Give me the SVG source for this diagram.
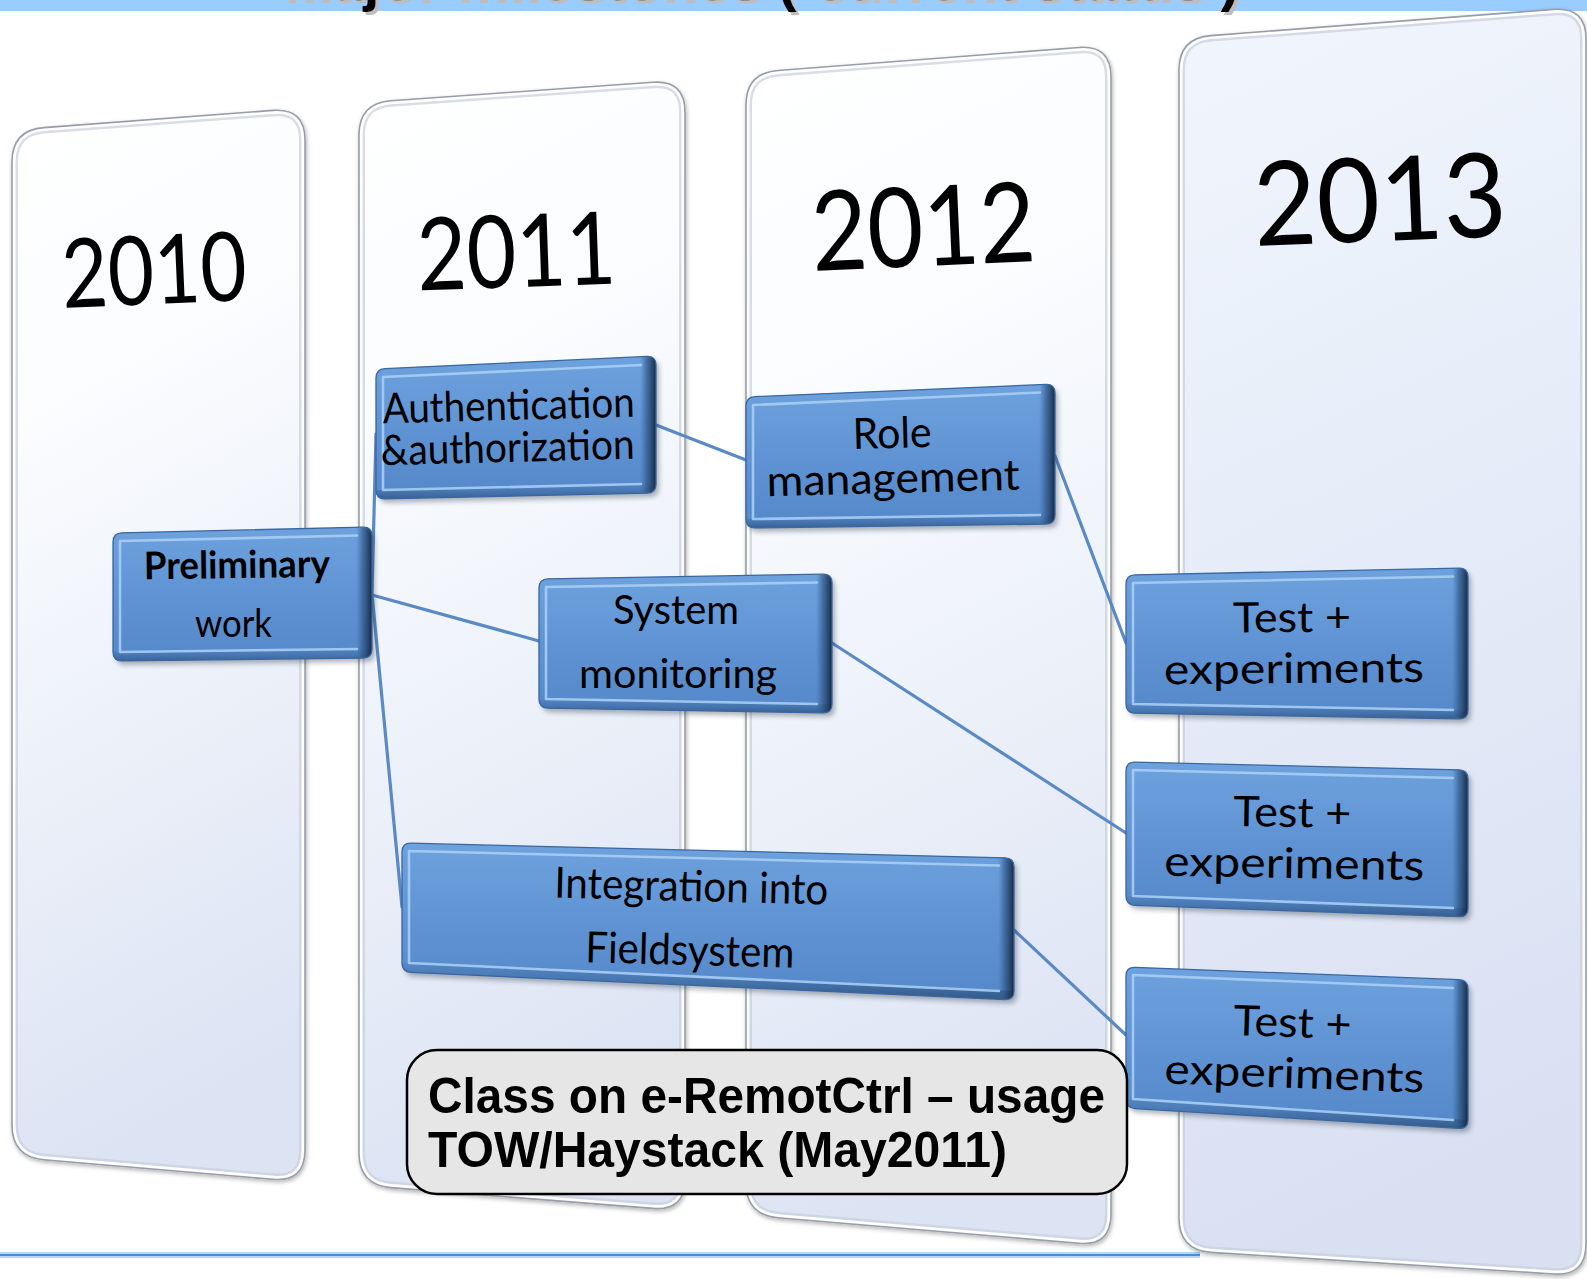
<svg xmlns="http://www.w3.org/2000/svg" xmlns:xlink="http://www.w3.org/1999/xlink" width="1587" height="1279" viewBox="0 0 1587 1279">
  <style>
    .title { font-family: "Liberation Sans", Arial, sans-serif; font-weight: bold; font-size: 60px; fill: #000; filter: url(#fTitleShadow); }
    .panel-rim { fill: none; stroke: #979ea9; stroke-width: 1.6; }
    .panel-shade { fill: none; stroke: #c8cfdd; stroke-width: 12; opacity: 0.7; }
    .panel-hi { fill: none; stroke: #ffffff; stroke-width: 7; }
    .yr { font-family: Lato, "Open Sans", "DejaVu Sans", sans-serif; fill: #000; }
    .box-face { fill: url(#gFace); }
    .box-rim { fill: none; stroke: #3a679f; stroke-width: 1.3; }
    .box-shadow { fill: #1d2a3a; opacity: 0.35; filter: url(#fBlur); }
    .edge-r { fill: url(#gEdgeR); }
    .edge-b { fill: url(#gEdgeB); }
    .bevel { fill: none; stroke: #a7cdf4; stroke-width: 2.6; stroke-linecap: round; stroke-linejoin: round; opacity: 0.9; }
    .lbl { font-family: Lato, "Open Sans", "DejaVu Sans", sans-serif; fill: #000; }
    .conn line { stroke: #5a8ac6; stroke-width: 3.2; stroke-linecap: round; }
    .note-box { fill: #e6e6e6; stroke: #000; stroke-width: 2.5; }
    .note { font-family: "Liberation Sans", Arial, sans-serif; font-weight: bold; font-size: 50px; fill: #000; }
  </style>
  <defs>
    <linearGradient id="gPanel" x1="0" y1="0" x2="0.15" y2="1">
      <stop offset="0" stop-color="#ffffff"/>
      <stop offset="0.3" stop-color="#fafcfe"/>
      <stop offset="1" stop-color="#dce3f3"/>
    </linearGradient>
    <linearGradient id="gPanel4" x1="0" y1="0" x2="0.15" y2="1">
      <stop offset="0" stop-color="#f1f6fd"/>
      <stop offset="1" stop-color="#d9e0f2"/>
    </linearGradient>
    <linearGradient id="gFace" x1="0" y1="0" x2="0" y2="1">
      <stop offset="0" stop-color="#6ea2de"/>
      <stop offset="0.5" stop-color="#5f93d3"/>
      <stop offset="1" stop-color="#5588c8"/>
    </linearGradient>
    <linearGradient id="gEdgeR" x1="0" y1="0" x2="1" y2="0">
      <stop offset="0" stop-color="#3a6599" stop-opacity="0"/>
      <stop offset="0.4" stop-color="#2c5282" stop-opacity="0.6"/>
      <stop offset="1" stop-color="#13233a" stop-opacity="0.95"/>
    </linearGradient>
    <linearGradient id="gEdgeB" x1="0" y1="0" x2="0" y2="1">
      <stop offset="0" stop-color="#3f6ea8" stop-opacity="0.2"/>
      <stop offset="1" stop-color="#25466f" stop-opacity="0.85"/>
    </linearGradient>
    <filter id="fBlur" x="-10%" y="-10%" width="120%" height="130%">
      <feGaussianBlur stdDeviation="2.5"/>
    </filter>
    <filter id="fTitleShadow" x="-5%" y="-50%" width="110%" height="200%">
      <feOffset in="SourceAlpha" dx="3" dy="3" result="off"/>
      <feFlood flood-color="#bdbdbd"/>
      <feComposite in2="off" operator="in" result="sh"/>
      <feMerge><feMergeNode in="sh"/><feMergeNode in="SourceGraphic"/></feMerge>
    </filter>
    <filter id="fPanelShadow" x="-5%" y="-5%" width="110%" height="110%">
      <feGaussianBlur in="SourceAlpha" stdDeviation="2"/>
      <feOffset dx="1" dy="2" result="s"/>
      <feComponentTransfer><feFuncA type="linear" slope="0.3"/></feComponentTransfer>
      <feMerge><feMergeNode/><feMergeNode in="SourceGraphic"/></feMerge>
    </filter>

    <!-- year column outlines -->
    <path id="p2010" d="M12,162 Q12,130 44,127.6 L273,110.4 Q305,108 305,140 L305,1150 Q305,1182 273,1179.3 L44,1159.7 Q12,1157 12,1125 Z"/>
    <path id="p2011" d="M359,135 Q359,103 391,100.7 L653,82.3 Q685,80 685,112 L685,1179 Q685,1211 653,1208.4 L391,1187.6 Q359,1185 359,1153 Z"/>
    <path id="p2012" d="M746,105 Q746,73 778,70.5 L1079,47.5 Q1111,45 1111,77 L1111,1214 Q1111,1246 1079,1243.3 L778,1217.7 Q746,1215 746,1183 Z"/>
    <path id="p2013" d="M1179,70 Q1179,38 1211,35.6 L1554,9.4 Q1586,7 1586,39 L1586,1244 Q1586,1276 1554,1274 L1211,1252.4 Q1179,1250 1179,1218 Z"/>
    <clipPath id="c2010"><use xlink:href="#p2010"/></clipPath>
    <clipPath id="c2011"><use xlink:href="#p2011"/></clipPath>
    <clipPath id="c2012"><use xlink:href="#p2012"/></clipPath>
    <clipPath id="c2013"><use xlink:href="#p2013"/></clipPath>

    <!-- milestone box outlines -->
    <path id="bPre" d="M113,542 Q113,533 122,532.8 L363,527.2 Q372,527 372,536 L372,649 Q372,658 363,658.1 L122,660.9 Q113,661 113,652 Z"/>
    <path id="bAuth" d="M376,378 Q376,369 385,368.6 L647,356.4 Q656,356 656,365 L656,484 Q656,493 647,493.2 L385,498.8 Q376,499 376,490 Z"/>
    <path id="bSys" d="M539,588 Q539,579 548,578.8 L823,574.2 Q832,574 832,583 L832,704 Q832,713 823,712.8 L548,708.2 Q539,708 539,699 Z"/>
    <path id="bRole" d="M746,406 Q746,397 755,396.6 L1046,384.4 Q1055,384 1055,393 L1055,515 Q1055,524 1046,524.1 L755,527.9 Q746,528 746,519 Z"/>
    <path id="bInt" d="M402,852 Q402,843 411,843.2 L1005,857.8 Q1014,858 1014,867 L1014,991 Q1014,1000 1005,999.6 L411,972.4 Q402,972 402,963 Z"/>
    <path id="bT1" d="M1126,584 Q1126,575 1135,574.8 L1459,568.2 Q1468,568 1468,577 L1468,710 Q1468,719 1459,718.8 L1135,713.2 Q1126,713 1126,704 Z"/>
    <path id="bT2" d="M1126,771 Q1126,762 1135,762.2 L1459,769.8 Q1468,770 1468,779 L1468,908 Q1468,917 1459,916.7 L1135,905.3 Q1126,905 1126,896 Z"/>
    <path id="bT3" d="M1126,976 Q1126,967 1135,967.3 L1459,979.7 Q1468,980 1468,989 L1468,1120 Q1468,1129 1459,1128.4 L1135,1108.6 Q1126,1108 1126,1099 Z"/>
    <clipPath id="cPre"><use xlink:href="#bPre"/></clipPath>
    <clipPath id="cAuth"><use xlink:href="#bAuth"/></clipPath>
    <clipPath id="cSys"><use xlink:href="#bSys"/></clipPath>
    <clipPath id="cRole"><use xlink:href="#bRole"/></clipPath>
    <clipPath id="cInt"><use xlink:href="#bInt"/></clipPath>
    <clipPath id="cT1"><use xlink:href="#bT1"/></clipPath>
    <clipPath id="cT2"><use xlink:href="#bT2"/></clipPath>
    <clipPath id="cT3"><use xlink:href="#bT3"/></clipPath>
  </defs>

  <rect x="0" y="0" width="1587" height="1279" fill="#ffffff"/>

  <!-- heading strip; the heading itself runs off the top edge -->
  <g id="heading">
    <rect x="0" y="0" width="1587" height="11" fill="#99ccff"/>
    <text class="title" x="282" y="0" textLength="958" lengthAdjust="spacingAndGlyphs">Major milestones ( current status )</text>
  </g>

  <!-- footer rule -->
  <g id="footer-rule">
    <line x1="0" y1="1255" x2="1200" y2="1255" stroke="#bcd7f2" stroke-width="6"/>
    <line x1="0" y1="1255" x2="1200" y2="1255" stroke="#4a8fd6" stroke-width="2"/>
  </g>

  <!-- year columns -->
  <g id="col-2010" filter="url(#fPanelShadow)">
    <use xlink:href="#p2010" fill="url(#gPanel)"/>
    <g clip-path="url(#c2010)"><use xlink:href="#p2010" class="panel-shade"/><use xlink:href="#p2010" class="panel-hi"/></g>
    <use xlink:href="#p2010" class="panel-rim"/>
    <text class="yr" x="63" y="304" font-size="96" textLength="185" lengthAdjust="spacingAndGlyphs" transform="rotate(-2.5 155 304)">2010</text>
  </g>
  <g id="col-2011" filter="url(#fPanelShadow)">
    <use xlink:href="#p2011" fill="url(#gPanel)"/>
    <g clip-path="url(#c2011)"><use xlink:href="#p2011" class="panel-shade"/><use xlink:href="#p2011" class="panel-hi"/></g>
    <use xlink:href="#p2011" class="panel-rim"/>
    <text class="yr" x="418" y="287" font-size="101" textLength="199" lengthAdjust="spacingAndGlyphs" transform="rotate(-2 518 287)">2011</text>
  </g>
  <g id="col-2012" filter="url(#fPanelShadow)">
    <use xlink:href="#p2012" fill="url(#gPanel)"/>
    <g clip-path="url(#c2012)"><use xlink:href="#p2012" class="panel-shade"/><use xlink:href="#p2012" class="panel-hi"/></g>
    <use xlink:href="#p2012" class="panel-rim"/>
    <text class="yr" x="813" y="266" font-size="111" textLength="224" lengthAdjust="spacingAndGlyphs" transform="rotate(-2.6 925 266)">2012</text>
  </g>
  <g id="col-2013" filter="url(#fPanelShadow)">
    <use xlink:href="#p2013" fill="url(#gPanel4)"/>
    <g clip-path="url(#c2013)"><use xlink:href="#p2013" class="panel-shade"/><use xlink:href="#p2013" class="panel-hi"/></g>
    <use xlink:href="#p2013" class="panel-rim"/>
    <text class="yr" x="1255" y="241" font-size="117" textLength="253" lengthAdjust="spacingAndGlyphs" transform="rotate(-2.3 1381 241)">2013</text>
  </g>

  <!-- connectors -->
  <g id="connectors" class="conn">
    <line x1="372" y1="594" x2="376" y2="434"/>
    <line x1="372" y1="594" x2="402" y2="907"/>
    <line x1="372" y1="595" x2="539" y2="641"/>
    <line x1="656" y1="425" x2="746" y2="460"/>
    <line x1="1055" y1="456" x2="1126" y2="643"/>
    <line x1="832" y1="643" x2="1126" y2="833"/>
    <line x1="1014" y1="930" x2="1126" y2="1035"/>
  </g>

  <!-- milestone boxes -->
  <g id="node-preliminary">
    <use xlink:href="#bPre" class="box-shadow" transform="translate(3,4)"/>
    <use xlink:href="#bPre" class="box-face"/>
    <g clip-path="url(#cPre)">
      <polygon class="edge-b" points="113,652 372,649 372,662 113,665"/>
      <rect class="edge-r" x="356" y="524" width="16" height="140"/>
      <path class="bevel" d="M120,652 L120,541 L357,535.5 M120,652 L357,649"/>
    </g>
    <use xlink:href="#bPre" class="box-rim"/>
    <text class="lbl" x="144" y="578" font-size="38" font-weight="bold" textLength="186" lengthAdjust="spacingAndGlyphs" transform="rotate(-0.8 237 578)">Preliminary</text>
    <text class="lbl" x="195" y="637" font-size="38" textLength="77" lengthAdjust="spacingAndGlyphs">work</text>
  </g>

  <g id="node-auth">
    <use xlink:href="#bAuth" class="box-shadow" transform="translate(3,4)"/>
    <use xlink:href="#bAuth" class="box-face"/>
    <g clip-path="url(#cAuth)">
      <polygon class="edge-b" points="376,490 656,484 656,497 376,503"/>
      <rect class="edge-r" x="640" y="353" width="16" height="146"/>
      <path class="bevel" d="M383,490 L383,377 L641,365 M383,490 L641,484"/>
    </g>
    <use xlink:href="#bAuth" class="box-rim"/>
    <text class="lbl" x="383" y="420" font-size="42" textLength="252" lengthAdjust="spacingAndGlyphs" transform="rotate(-1.5 509 420)">Authentication</text>
    <text class="lbl" x="381" y="462" font-size="42" textLength="254" lengthAdjust="spacingAndGlyphs" transform="rotate(-1.5 508 462)">&amp;authorization</text>
  </g>

  <g id="node-sysmon">
    <use xlink:href="#bSys" class="box-shadow" transform="translate(3,4)"/>
    <use xlink:href="#bSys" class="box-face"/>
    <g clip-path="url(#cSys)">
      <polygon class="edge-b" points="539,699 832,704 832,717 539,712"/>
      <rect class="edge-r" x="816" y="571" width="16" height="146"/>
      <path class="bevel" d="M546,699 L546,587 L817,582.5 M546,699 L817,704"/>
    </g>
    <use xlink:href="#bSys" class="box-rim"/>
    <text class="lbl" x="613" y="624" font-size="41" textLength="126" lengthAdjust="spacingAndGlyphs">System</text>
    <text class="lbl" x="579" y="688" font-size="41" textLength="198" lengthAdjust="spacingAndGlyphs">monitoring</text>
  </g>

  <g id="node-role">
    <use xlink:href="#bRole" class="box-shadow" transform="translate(3,4)"/>
    <use xlink:href="#bRole" class="box-face"/>
    <g clip-path="url(#cRole)">
      <polygon class="edge-b" points="746,519 1055,515 1055,528 746,532"/>
      <rect class="edge-r" x="1039" y="381" width="16" height="150"/>
      <path class="bevel" d="M753,519 L753,405 L1040,392.5 M753,519 L1040,515"/>
    </g>
    <use xlink:href="#bRole" class="box-rim"/>
    <text class="lbl" x="853" y="448" font-size="43" textLength="79" lengthAdjust="spacingAndGlyphs" transform="rotate(-1.5 893 448)">Role</text>
    <text class="lbl" x="767" y="493" font-size="43" textLength="253" lengthAdjust="spacingAndGlyphs" transform="rotate(-1.5 893 493)">management</text>
  </g>

  <g id="node-integration">
    <use xlink:href="#bInt" class="box-shadow" transform="translate(3,4)"/>
    <use xlink:href="#bInt" class="box-face"/>
    <g clip-path="url(#cInt)">
      <polygon class="edge-b" points="402,963 1014,991 1014,1004 402,976"/>
      <rect class="edge-r" x="998" y="855" width="16" height="148"/>
      <path class="bevel" d="M409,963 L409,851 L999,865.5 M409,963 L999,991"/>
    </g>
    <use xlink:href="#bInt" class="box-rim"/>
    <text class="lbl" x="554" y="901" font-size="43" textLength="274" lengthAdjust="spacingAndGlyphs" transform="rotate(1.5 691 901)">Integration into</text>
    <text class="lbl" x="585" y="965" font-size="43" textLength="209" lengthAdjust="spacingAndGlyphs" transform="rotate(1.5 690 965)">Fieldsystem</text>
  </g>

  <g id="node-test-1">
    <use xlink:href="#bT1" class="box-shadow" transform="translate(3,4)"/>
    <use xlink:href="#bT1" class="box-face"/>
    <g clip-path="url(#cT1)">
      <polygon class="edge-b" points="1126,704 1468,710 1468,723 1126,717"/>
      <rect class="edge-r" x="1452" y="565" width="16" height="157"/>
      <path class="bevel" d="M1133,704 L1133,583 L1453,576.5 M1133,704 L1453,710"/>
    </g>
    <use xlink:href="#bT1" class="box-rim"/>
    <text class="lbl" x="1233" y="632" font-size="42" textLength="118" lengthAdjust="spacingAndGlyphs" transform="rotate(-0.5 1292 632)">Test +</text>
    <text class="lbl" x="1164" y="683" font-size="42" textLength="260" lengthAdjust="spacingAndGlyphs" transform="rotate(-0.5 1294 683)">experiments</text>
  </g>

  <g id="node-test-2">
    <use xlink:href="#bT2" class="box-shadow" transform="translate(3,4)"/>
    <use xlink:href="#bT2" class="box-face"/>
    <g clip-path="url(#cT2)">
      <polygon class="edge-b" points="1126,896 1468,908 1468,921 1126,909"/>
      <rect class="edge-r" x="1452" y="767" width="16" height="153"/>
      <path class="bevel" d="M1133,896 L1133,770 L1453,778 M1133,896 L1453,908"/>
    </g>
    <use xlink:href="#bT2" class="box-rim"/>
    <text class="lbl" x="1233" y="827" font-size="42" textLength="118" lengthAdjust="spacingAndGlyphs" transform="rotate(1 1292 827)">Test +</text>
    <text class="lbl" x="1164" y="878" font-size="42" textLength="260" lengthAdjust="spacingAndGlyphs" transform="rotate(1 1294 878)">experiments</text>
  </g>

  <g id="node-test-3">
    <use xlink:href="#bT3" class="box-shadow" transform="translate(3,4)"/>
    <use xlink:href="#bT3" class="box-face"/>
    <g clip-path="url(#cT3)">
      <polygon class="edge-b" points="1126,1099 1468,1120 1468,1133 1126,1112"/>
      <rect class="edge-r" x="1452" y="977" width="16" height="155"/>
      <path class="bevel" d="M1133,1099 L1133,975 L1453,988 M1133,1099 L1453,1120"/>
    </g>
    <use xlink:href="#bT3" class="box-rim"/>
    <text class="lbl" x="1233" y="1037" font-size="42" textLength="118" lengthAdjust="spacingAndGlyphs" transform="rotate(2 1292 1037)">Test +</text>
    <text class="lbl" x="1164" y="1088" font-size="42" textLength="260" lengthAdjust="spacingAndGlyphs" transform="rotate(2 1294 1088)">experiments</text>
  </g>

  <!-- training note -->
  <g id="node-class-note">
    <rect class="note-box" x="407" y="1050" width="720" height="144" rx="30" ry="30"/>
    <text class="note" x="428" y="1113" textLength="677" lengthAdjust="spacingAndGlyphs">Class on e-RemotCtrl – usage</text>
    <text class="note" x="428" y="1167" textLength="579" lengthAdjust="spacingAndGlyphs">TOW/Haystack (May2011)</text>
  </g>
</svg>
